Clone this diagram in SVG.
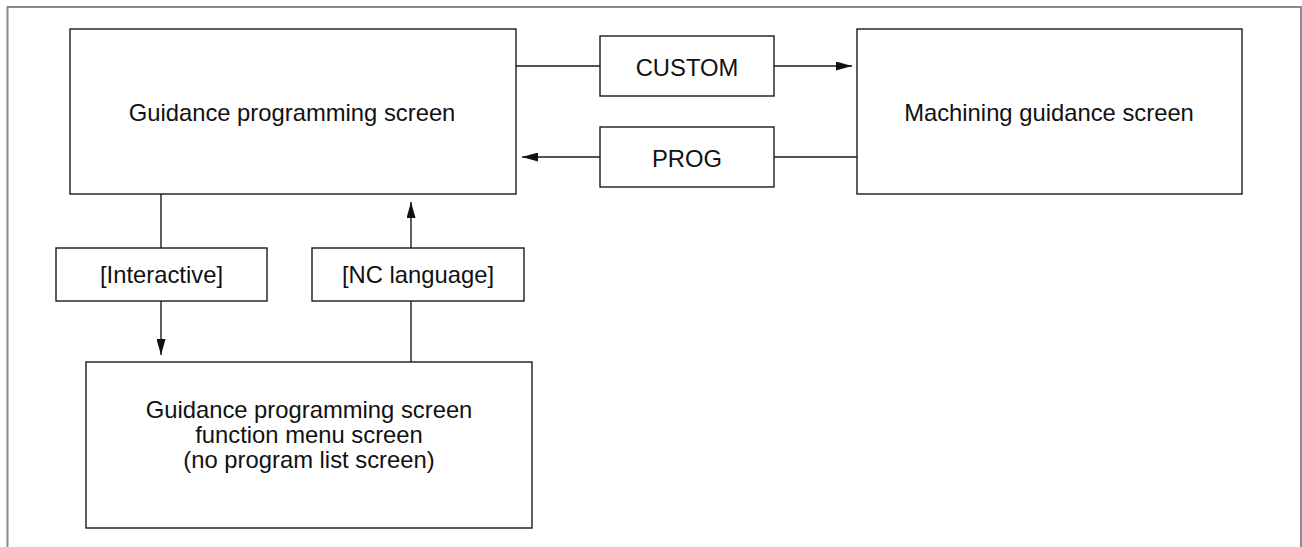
<svg xmlns="http://www.w3.org/2000/svg" width="1302" height="547" viewBox="0 0 1302 547">
<style>
.box{fill:#fff;stroke:#1a1a1a;stroke-width:1.4}
.t{font-family:"Liberation Sans",Arial,sans-serif;font-size:23.8px;fill:#111;text-anchor:middle}
.c{fill:none;stroke:#1a1a1a;stroke-width:1.4}
.frame{fill:none;stroke:#8a8a8a;stroke-width:2}
</style>
<defs>
<marker id="ah" markerWidth="16" markerHeight="9" refX="16" refY="4.5" orient="auto" markerUnits="userSpaceOnUse">
<path d="M0,0 L16,4.5 L0,9 Z" fill="#111"/>
</marker>
</defs>
<rect width="1302" height="547" fill="#fff"/>
<path class="frame" d="M7.5,547 L7.5,7 L1301,7 L1301,547"/>
<g id="connectors">
<line class="c" x1="516" y1="66" x2="600" y2="66"/>
<line class="c" x1="774" y1="66" x2="852" y2="66" marker-end="url(#ah)"/>
<line class="c" x1="857" y1="157" x2="774" y2="157"/>
<line class="c" x1="600" y1="157" x2="522" y2="157" marker-end="url(#ah)"/>
<line class="c" x1="161" y1="194" x2="161" y2="248"/>
<line class="c" x1="161" y1="301" x2="161" y2="355" marker-end="url(#ah)"/>
<line class="c" x1="411" y1="362" x2="411" y2="301"/>
<line class="c" x1="411" y1="248" x2="411" y2="202" marker-end="url(#ah)"/>
</g>
<g id="guidance">
<rect class="box" x="70" y="29" width="446" height="165"/>
<text class="t" x="292" y="121">Guidance programming screen</text>
</g>
<g id="custom">
<rect class="box" x="600" y="36" width="174" height="60"/>
<text class="t" x="687" y="76">CUSTOM</text>
</g>
<g id="prog">
<rect class="box" x="600" y="127" width="174" height="60"/>
<text class="t" x="687" y="167">PROG</text>
</g>
<g id="machining">
<rect class="box" x="857" y="29" width="385" height="165"/>
<text class="t" x="1049" y="121">Machining guidance screen</text>
</g>
<g id="interactive">
<rect class="box" x="56" y="248" width="211" height="53"/>
<text class="t" x="161.5" y="283">[Interactive]</text>
</g>
<g id="nclanguage">
<rect class="box" x="312" y="248" width="212" height="53"/>
<text class="t" x="418" y="283">[NC language]</text>
</g>
<g id="menu">
<rect class="box" x="86" y="362" width="446" height="166"/>
<text class="t" x="309" y="418">Guidance programming screen</text>
<text class="t" x="309" y="443">function menu screen</text>
<text class="t" x="309" y="468">(no program list screen)</text>
</g>
</svg>
